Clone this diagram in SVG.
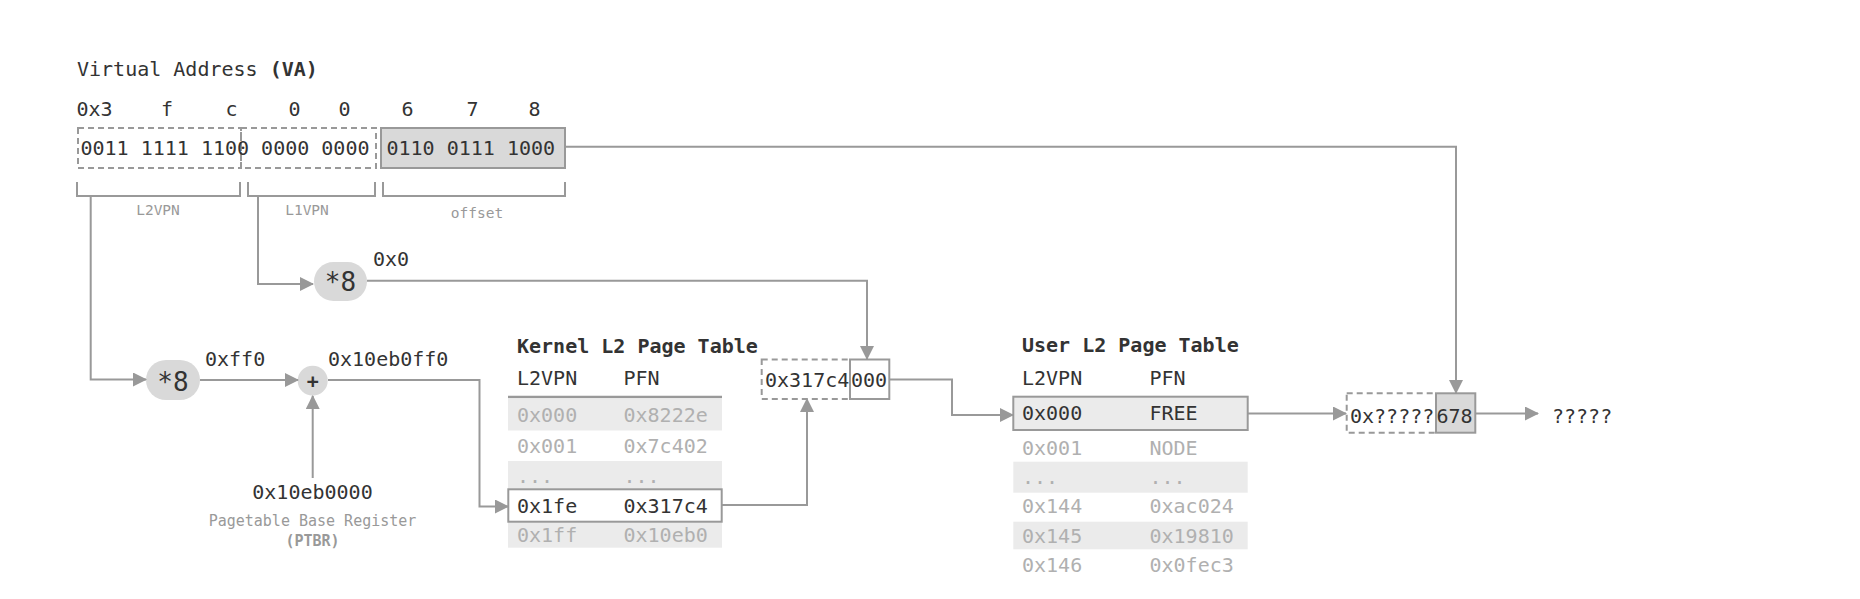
<svg xmlns="http://www.w3.org/2000/svg" width="1860" height="599" viewBox="0 0 1860 599">
<style>
  text { font-family: "DejaVu Sans Mono", "Liberation Mono", monospace; font-size: 20px; fill: #333; }
  .b { font-weight: bold; }
  .lab { font-size: 14.5px; fill: #999; }
  .cap { font-size: 15px; fill: #999; }
  .fade { fill: #b0b0b0; }
  .op { font-size: 26px; }
  .ln { fill: none; stroke: #999; stroke-width: 2; }
  .dash { fill: none; stroke: #999; stroke-width: 2; stroke-dasharray: 6 4; }
  .box { fill: #fff; stroke: #999; stroke-width: 2; }
  .gbox { fill: #d9d9d9; stroke: #999; stroke-width: 2; }
  .shade { fill: #ebebeb; }
  .pill { fill: #d9d9d9; }
  .conn { fill: none; stroke: #999; stroke-width: 2; marker-end: url(#ah); }
</style>
<defs>
  <marker id="ah" markerUnits="userSpaceOnUse" markerWidth="14" markerHeight="14" refX="13" refY="7" orient="auto">
    <path d="M0,0 L14,7 L0,14 z" fill="#999"/>
  </marker>
</defs>
<rect width="1860" height="599" fill="#fff"/>

<g id="va">
  <text x="77" y="76">Virtual Address <tspan class="b">(VA)</tspan></text>
  <text x="76.5" y="116">0x3</text>
  <text x="161" y="116">f</text>
  <text x="225.5" y="116">c</text>
  <text x="288.5" y="116">0</text>
  <text x="338.5" y="116">0</text>
  <text x="401.5" y="116">6</text>
  <text x="466.5" y="116">7</text>
  <text x="528.5" y="116">8</text>
  <rect class="dash" x="78" y="128" width="163" height="40"/>
  <rect class="dash" x="241" y="128" width="135" height="40"/>
  <rect class="gbox" x="381" y="128" width="184" height="40"/>
  <text x="80.5" y="155">0011 1111 1100 0000 0000</text>
  <text x="386.5" y="155">0110 0111 1000</text>
  <path class="ln" d="M77,182 V196 H240 V182"/>
  <path class="ln" d="M248,182 V196 H375 V182"/>
  <path class="ln" d="M383,182 V196 H565 V182"/>
  <text class="lab" x="158" y="215" text-anchor="middle">L2VPN</text>
  <text class="lab" x="307" y="215" text-anchor="middle">L1VPN</text>
  <text class="lab" x="477" y="218" text-anchor="middle">offset</text>
</g>

<g id="mul1">
  <rect class="pill" x="314" y="262" width="53" height="39" rx="19.5"/>
  <text class="op" x="340.5" y="291" text-anchor="middle">*8</text>
  <text x="373" y="266">0x0</text>
</g>

<g id="mul2">
  <rect class="pill" x="146" y="360" width="54" height="40" rx="20"/>
  <text class="op" x="173" y="391" text-anchor="middle">*8</text>
  <text x="205" y="366">0xff0</text>
</g>

<g id="plus">
  <circle class="pill" cx="312.7" cy="380.7" r="15"/>
  <text class="b" x="312.7" y="388" text-anchor="middle" font-size="22">+</text>
  <text x="328" y="366">0x10eb0ff0</text>
</g>

<g id="ptbr">
  <text x="312.5" y="499" text-anchor="middle">0x10eb0000</text>
  <text class="cap" x="312.5" y="526" text-anchor="middle">Pagetable Base Register</text>
  <text class="cap b" x="312.5" y="546" text-anchor="middle">(PTBR)</text>
</g>

<g id="kernel-table">
  <text class="b" x="517" y="352.5">Kernel L2 Page Table</text>
  <text x="517" y="385">L2VPN</text>
  <text x="623.5" y="385">PFN</text>
  <line x1="508" y1="397" x2="722" y2="397" stroke="#999" stroke-width="2.5"/>
  <rect class="shade" x="508" y="398.5" width="214" height="32"/>
  <text class="fade" x="517" y="421.7">0x000</text>
  <text class="fade" x="623.5" y="421.7">0x8222e</text>
  <text class="fade" x="517" y="453.3">0x001</text>
  <text class="fade" x="623.5" y="453.3">0x7c402</text>
  <rect class="shade" x="508" y="461" width="214" height="28"/>
  <text class="fade" x="517" y="483">...</text>
  <text class="fade" x="623.5" y="483">...</text>
  <rect class="shade" x="508" y="521.7" width="214" height="26"/>
  <text class="fade" x="517" y="541.7">0x1ff</text>
  <text class="fade" x="623.5" y="541.7">0x10eb0</text>
  <rect class="box" x="508.3" y="489.3" width="213.4" height="32.4"/>
  <text x="517" y="513.3">0x1fe</text>
  <text x="623.5" y="513.3">0x317c4</text>
</g>

<g id="l1-addr">
  <rect class="dash" x="761.7" y="359.5" width="88.3" height="39.5"/>
  <rect class="box" x="850" y="359.5" width="39.3" height="39.5"/>
  <text x="765" y="386.7">0x317c4</text>
  <text x="851" y="386.7">000</text>
</g>

<g id="user-table">
  <text class="b" x="1022" y="352">User L2 Page Table</text>
  <text x="1022" y="385">L2VPN</text>
  <text x="1149.5" y="385">PFN</text>
  <rect class="shade" x="1013.3" y="396.7" width="234.4" height="33.3" stroke="#999" stroke-width="2"/>
  <text x="1022" y="420">0x000</text>
  <text x="1149.5" y="420">FREE</text>
  <text class="fade" x="1022" y="455">0x001</text>
  <text class="fade" x="1149.5" y="455">NODE</text>
  <rect class="shade" x="1013.3" y="461.7" width="234.4" height="31"/>
  <text class="fade" x="1022" y="484">...</text>
  <text class="fade" x="1149.5" y="484">...</text>
  <text class="fade" x="1022" y="513.3">0x144</text>
  <text class="fade" x="1149.5" y="513.3">0xac024</text>
  <rect class="shade" x="1013.3" y="521.7" width="234.4" height="27.6"/>
  <text class="fade" x="1022" y="542.7">0x145</text>
  <text class="fade" x="1149.5" y="542.7">0x19810</text>
  <text class="fade" x="1022" y="571.7">0x146</text>
  <text class="fade" x="1149.5" y="571.7">0x0fec3</text>
</g>

<g id="final-addr">
  <rect class="dash" x="1346.7" y="393.3" width="89.3" height="39.4"/>
  <rect class="gbox" x="1436" y="393.3" width="39.3" height="39.4"/>
  <text x="1350" y="423.3">0x?????</text>
  <text x="1436.5" y="423.3">678</text>
  <text x="1552" y="423.3">?????</text>
</g>

<g id="connectors">
  <path class="conn" d="M90.7,196 V379.5 H146"/>
  <path class="conn" d="M258,196 V284 H313"/>
  <path class="conn" d="M367,280.7 H867 V359"/>
  <path class="conn" d="M200,380 H298"/>
  <path class="conn" d="M328,380 H479.5 V506.5 H508"/>
  <path class="conn" d="M312.7,478 V396"/>
  <path class="conn" d="M722,505 H807 V399"/>
  <path class="conn" d="M889.3,379.5 H952 V415 H1013"/>
  <path class="conn" d="M1248,413.5 H1346"/>
  <path class="conn" d="M565,146.7 H1456 V393"/>
  <path class="conn" d="M1475.3,413.5 H1538"/>
</g>
</svg>
